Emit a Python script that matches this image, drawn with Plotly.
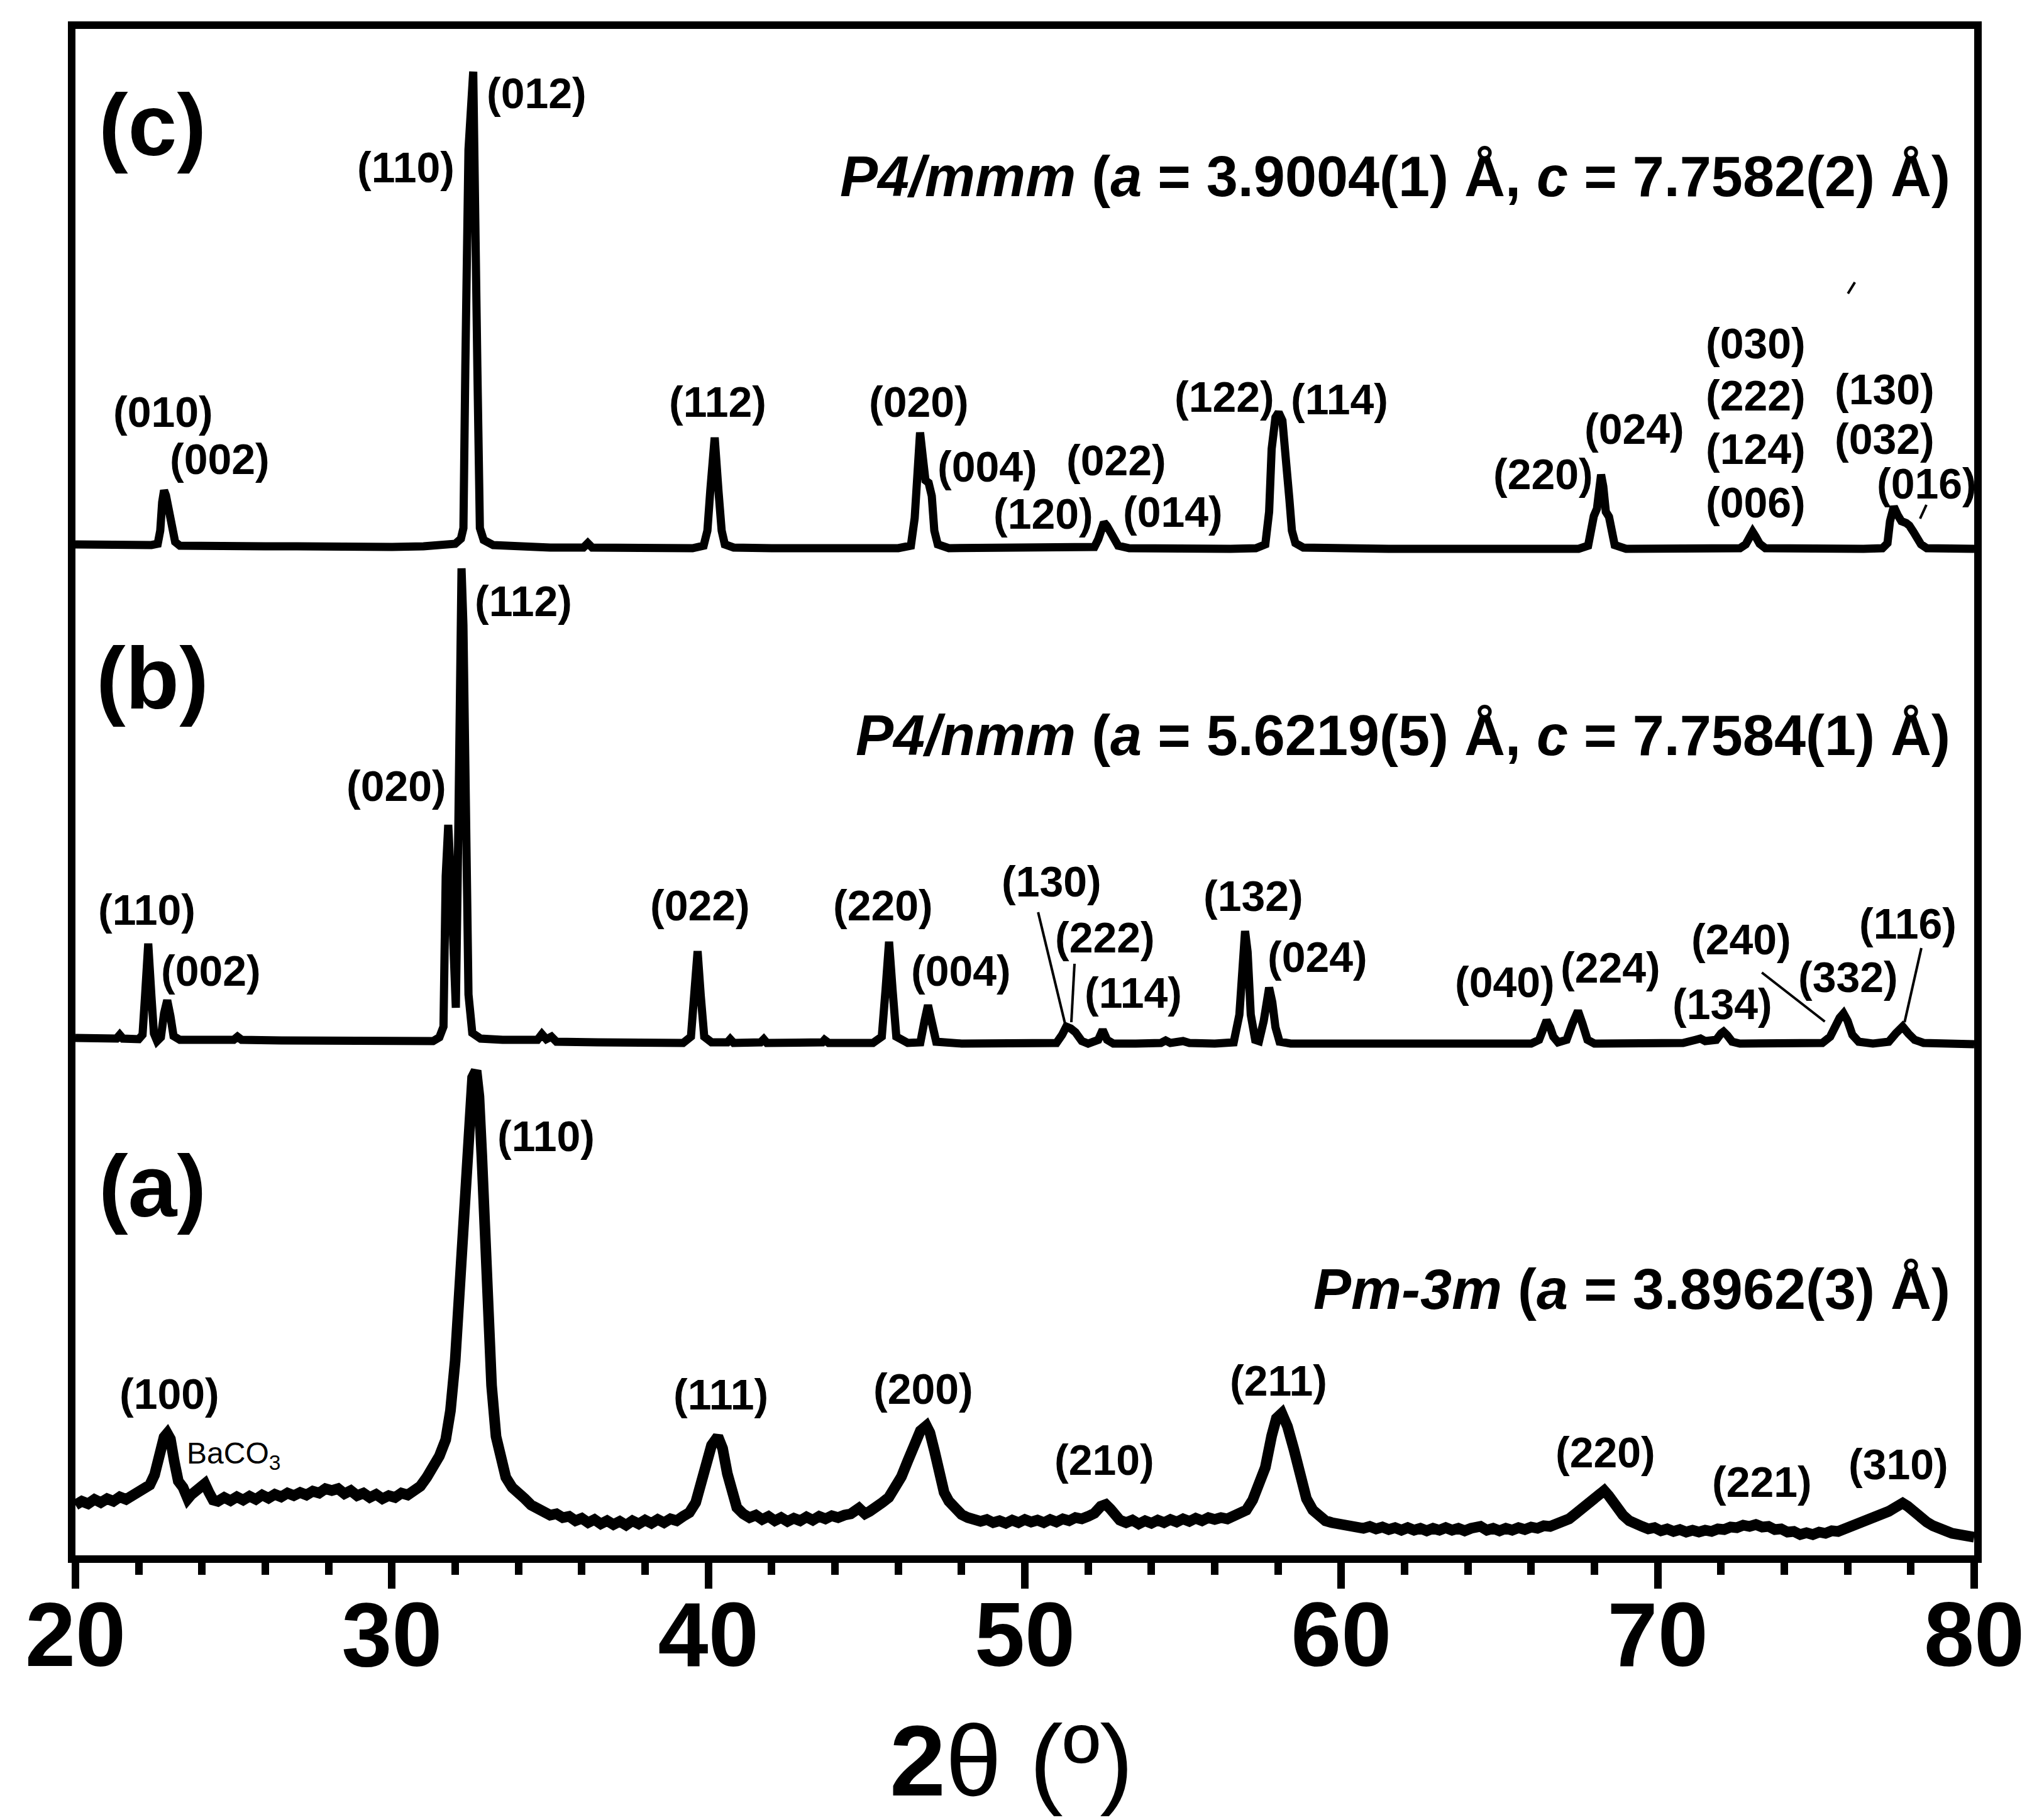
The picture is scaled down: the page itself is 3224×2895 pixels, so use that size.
import plotly.graph_objects as go

# XRD patterns, three phases stacked; intensities in arbitrary units
two_theta_a = [20.0, 20.2, 20.4, 20.6, 20.8, 21.0, 21.2, 21.4, 21.6, 21.8, 22.0, 22.2, 22.35, 22.5, 22.65, 22.8, 22.9,
               23.0, 23.12, 23.25, 23.4, 23.55, 23.65, 23.8, 23.95, 24.09, 24.22, 24.35, 24.5, 24.7, 24.9, 25.1, 25.3,
               25.5, 25.7, 25.9, 26.1, 26.3, 26.5, 26.7, 26.9, 27.1, 27.3, 27.5, 27.7, 27.9, 28.1, 28.3, 28.5, 28.7,
               28.9, 29.1, 29.3, 29.5, 29.7, 29.9, 30.1, 30.3, 30.5, 30.7, 30.9, 31.1, 31.3, 31.5, 31.7, 31.85, 32.0,
               32.1, 32.25, 32.4, 32.55, 32.66, 32.75, 32.84, 32.95, 33.04, 33.15, 33.29, 33.45, 33.6, 33.8, 34.0,
               34.2, 34.4, 34.6, 34.8, 35.0, 35.2, 35.4, 35.6, 35.8, 36.0, 36.2, 36.4, 36.6, 36.8, 37.0, 37.2, 37.4,
               37.6, 37.8, 38.0, 38.2, 38.4, 38.6, 38.8, 39.0, 39.2, 39.4, 39.6, 39.8, 39.95, 40.1, 40.3, 40.45, 40.6,
               40.75, 40.9, 41.1, 41.3, 41.5, 41.7, 41.9, 42.1, 42.3, 42.5, 42.7, 42.9, 43.1, 43.3, 43.5, 43.7, 43.9,
               44.1, 44.3, 44.5, 44.76, 44.95, 45.1, 45.3, 45.5, 45.7, 45.9, 46.1, 46.3, 46.5, 46.7, 46.89, 47.0,
               47.15, 47.3, 47.45, 47.6, 47.8, 48.0, 48.2, 48.4, 48.6, 48.8, 49.0, 49.2, 49.4, 49.6, 49.8, 50.0, 50.2,
               50.4, 50.6, 50.8, 51.0, 51.2, 51.4, 51.6, 51.8, 52.0, 52.2, 52.4, 52.56, 52.7, 52.85, 53.0, 53.2, 53.4,
               53.6, 53.8, 54.0, 54.2, 54.4, 54.6, 54.8, 55.0, 55.2, 55.4, 55.6, 55.8, 56.0, 56.2, 56.4, 56.6, 56.8,
               57.0, 57.2, 57.4, 57.6, 57.8, 57.95, 58.12, 58.3, 58.5, 58.7, 58.9, 59.1, 59.3, 59.5, 59.7, 59.9, 60.1,
               60.3, 60.5, 60.7, 60.9, 61.1, 61.3, 61.5, 61.7, 61.9, 62.1, 62.3, 62.5, 62.7, 62.9, 63.1, 63.3, 63.5,
               63.7, 63.9, 64.1, 64.4, 64.6, 64.8, 65.0, 65.2, 65.4, 65.6, 65.8, 66.0, 66.2, 66.4, 66.6, 66.8, 67.0,
               67.2, 67.4, 67.6, 67.8, 67.95, 68.1, 68.31, 68.45, 68.6, 68.75, 68.9, 69.1, 69.3, 69.5, 69.7, 69.9,
               70.1, 70.3, 70.5, 70.7, 70.9, 71.1, 71.3, 71.5, 71.7, 71.9, 72.1, 72.3, 72.5, 72.7, 72.9, 73.1, 73.3,
               73.5, 73.7, 73.9, 74.1, 74.3, 74.5, 74.7, 74.9, 75.1, 75.3, 75.5, 75.7, 75.9, 76.1, 76.3, 76.5, 76.7,
               76.9, 77.1, 77.3, 77.5, 77.74, 77.9, 78.1, 78.3, 78.5, 78.7, 78.9, 79.1, 79.3, 79.5, 79.7, 80.0]
intensity_a = [80, 86, 82, 89, 84, 90, 86, 93, 89, 95, 97, 104, 112, 128, 160, 188, 194,
               185, 150, 118, 108, 90, 96, 102, 112, 114, 100, 88, 86, 92, 87, 93, 88,
               94, 89, 96, 91, 97, 93, 99, 95, 100, 96, 102, 99, 106, 103, 106, 98, 103,
               95, 99, 92, 97, 90, 95, 92, 99, 96, 104, 110, 124, 140, 158, 184, 230, 310,
               388, 540, 686, 760, 771, 730, 637, 500, 388, 270, 189, 150, 124, 108, 96,
               90, 80, 74, 70, 64, 66, 60, 62, 55, 59, 52, 57, 50, 55, 49, 54, 48,
               55, 50, 56, 51, 57, 52, 58, 55, 62, 68, 84, 115, 150, 175, 189, 170, 130,
               95, 76, 66, 60, 64, 57, 62, 55, 60, 54, 59, 55, 61, 56, 62, 58, 63,
               60, 64, 66, 75, 66, 70, 75, 84, 92, 108, 125, 150, 179, 198, 206, 195,
               165, 125, 100, 86, 72, 65, 60, 58, 54, 57, 52, 55, 51, 56, 52, 57, 53,
               56, 52, 57, 53, 58, 55, 60, 58, 62, 67, 78, 81, 74, 62, 56, 52, 56,
               50, 55, 51, 56, 52, 57, 53, 58, 54, 59, 55, 60, 57, 60, 58, 62, 66,
               72, 88, 112, 140, 190, 218, 226, 205, 169, 125, 90, 72, 62, 55, 52, 50, 48,
               46, 47, 43, 46, 42, 45, 41, 44, 40, 44, 40, 43, 39, 43, 40, 44, 40,
               43, 39, 43, 46, 40, 43, 39, 43, 40, 44, 41, 45, 43, 47, 46, 50, 53,
               58, 66, 74, 82, 90, 98, 103, 95, 84, 74, 64, 55, 49, 46, 42, 44,
               39, 42, 38, 41, 37, 40, 37, 40, 38, 42, 41, 45, 44, 48, 46, 49, 45,
               46, 41, 42, 37, 38, 33, 36, 33, 37, 35, 39, 38, 42, 43, 48, 52, 56,
               60, 64, 70, 76, 83, 78, 68, 60, 53, 47, 41, 39, 35, 33, 32, 29]

two_theta_b = [20.0, 20.5, 21.0, 21.3, 21.4, 21.5, 22.0, 22.12, 22.2, 22.3, 22.4, 22.48, 22.58, 22.7, 22.8, 22.9,
               23.0, 23.1, 23.3, 24.0, 25.0, 25.12, 25.25, 26.5, 28.0, 29.5, 30.5, 31.3, 31.5, 31.63, 31.7, 31.78,
               31.86, 31.94, 32.02, 32.08, 32.14, 32.2, 32.26, 32.31, 32.36, 32.42, 32.54, 32.8, 33.5, 34.3, 34.6,
               34.74, 34.88, 35.04, 35.2, 36.5, 38.0, 39.2, 39.45, 39.56, 39.66, 39.76, 39.87, 40.1, 40.6, 40.69,
               40.8, 41.65, 41.75, 41.85, 43.0, 43.6, 43.67, 43.8, 45.2, 45.48, 45.6, 45.71, 45.82, 45.94, 46.3,
               46.7, 46.83, 46.94, 47.05, 47.2, 48.0, 49.0, 50.0, 51.0, 51.18, 51.31, 51.45, 51.6, 51.8, 52.0,
               52.32, 52.46, 52.6, 52.8, 53.5, 54.3, 54.45, 54.6, 55.0, 55.2, 56.0, 56.6, 56.78, 56.88, 56.96,
               57.04, 57.14, 57.28, 57.4, 57.55, 57.65, 57.72, 57.82, 57.92, 58.05, 58.4, 59.5, 61.0, 62.5, 63.5,
               64.3, 65.2, 66.0, 66.25, 66.38, 66.49, 66.6, 66.7, 66.85, 67.12, 67.3, 67.48, 67.62, 67.78, 68.0,
               69.0, 70.0, 70.8, 71.2, 71.35, 71.5, 71.85, 72.0, 72.08, 72.2, 72.35, 72.6, 73.5, 74.5, 75.2, 75.45,
               75.62, 75.75, 75.87, 76.0, 76.15, 76.35, 76.8, 77.3, 77.52, 77.74, 77.92, 78.12, 78.4, 79.2, 80.0]
intensity_b = [43, 42, 43, 42, 48, 42, 41, 48, 110, 193, 110, 50, 38, 44, 82, 103,
               78, 46, 40, 40, 40, 45, 40, 39, 39, 38, 38, 38, 44, 61, 300, 382,
               300, 130, 91, 300, 700, 790, 700, 560, 300, 112, 51, 42, 40, 38, 40,
               49, 41, 45, 37, 36, 35, 35, 45, 110, 181, 110, 45, 36, 36, 41,
               35, 36, 41, 35, 35, 36, 40, 35, 35, 45, 120, 196, 120, 45, 35,
               36, 70, 95, 70, 37, 34, 34, 34, 35, 48, 61, 58, 52, 38, 34,
               40, 56, 40, 34, 34, 35, 39, 35, 38, 35, 34, 36, 80, 180, 213,
               180, 80, 40, 38, 70, 115, 123, 100, 60, 37, 34, 34, 34, 34, 35,
               35, 34, 34, 40, 60, 71, 60, 45, 36, 40, 65, 86, 66, 40, 34,
               34, 34, 35, 40, 42, 38, 40, 50, 53, 47, 37, 34, 34, 34, 35, 45,
               65, 75, 82, 70, 48, 37, 34, 37, 50, 61, 50, 40, 35, 34, 33]

two_theta_c = [20.0, 20.6, 21.2, 21.8, 22.4, 22.6, 22.68, 22.74, 22.8, 22.86, 22.93, 23.0, 23.07, 23.15, 23.3, 24.0,
               25.0, 26.0, 27.0, 28.0, 29.0, 30.0, 31.0, 31.6, 32.0, 32.18, 32.26, 32.32, 32.42, 32.57, 32.62, 32.7,
               32.78, 32.9, 33.2, 34.0, 35.0, 36.05, 36.19, 36.33, 37.5, 38.5, 39.5, 39.85, 39.97, 40.06, 40.2,
               40.32, 40.42, 40.52, 40.8, 42.0, 43.0, 44.0, 45.0, 46.0, 46.4, 46.52, 46.6, 46.69, 46.78, 46.86,
               46.96, 47.06, 47.14, 47.25, 47.6, 48.5, 49.5, 50.5, 51.5, 52.2, 52.32, 52.42, 52.5, 52.6, 52.7,
               52.82, 52.95, 53.3, 54.5, 55.5, 56.5, 57.3, 57.6, 57.72, 57.8, 57.92, 58.02, 58.14, 58.26, 58.36,
               58.44, 58.55, 58.8, 60.0, 61.5, 63.0, 64.5, 66.0, 67.5, 67.8, 67.88, 67.98, 68.08, 68.15, 68.21,
               68.28, 68.36, 68.46, 68.54, 68.64, 69.0, 70.5, 72.0, 72.6, 72.78, 72.9, 73.0, 73.1, 73.22, 73.4,
               74.5, 75.5, 76.5, 77.1, 77.26, 77.34, 77.46, 77.58, 77.7, 77.85, 77.95, 78.08, 78.2, 78.32, 78.5,
               79.2, 80.0]
intensity_c = [48, 47, 49, 47, 47, 49, 70, 115, 134, 126, 104, 95, 72, 52, 46, 45,
               46, 45, 45, 44, 45, 44, 45, 46, 49, 57, 74, 330, 676, 800, 676, 330,
               74, 55, 47, 44, 43, 43, 50, 43, 42, 43, 42, 46, 70, 133, 218,
               133, 70, 48, 43, 42, 43, 42, 42, 42, 46, 90, 180, 226, 185, 150,
               146, 125, 70, 48, 42, 42, 41, 42, 42, 44, 56, 72, 83, 77, 66,
               55, 46, 42, 41, 42, 41, 42, 48, 100, 200, 250, 258, 245, 190, 120,
               70, 50, 43, 41, 41, 41, 41, 41, 41, 46, 75, 93, 105, 140, 159,
               140, 100, 92, 75, 47, 41, 41, 41, 42, 48, 60, 68, 60, 49, 42,
               41, 41, 41, 42, 50, 85, 108, 95, 85, 82, 78, 68, 60, 48, 42,
               41, 41]

# vertical offsets used to stack the patterns
offset_a = 0
offset_b = 780
offset_c = 1560

# Miller index labels: (text, 2theta, height)
labels_c = [("(110)", 30.44, 2208), ("(012)", 34.58, 2326), ("(010)", 22.78, 1819), ("(002)", 24.56, 1744),
            ("(112)", 40.30, 1835), ("(020)", 46.65, 1835), ("(004)", 48.81, 1732), ("(120)", 50.58, 1657),
            ("(022)", 52.90, 1742), ("(014)", 54.68, 1660), ("(122)", 56.31, 1843), ("(114)", 59.94, 1839),
            ("(220)", 66.39, 1720), ("(024)", 69.27, 1792), ("(030)", 73.10, 1928), ("(222)", 73.10, 1845),
            ("(124)", 73.10, 1760), ("(006)", 73.10, 1675), ("(130)", 77.16, 1855), ("(032)", 77.16, 1776),
            ("(016)", 78.49, 1705)]
labels_b = [("(020)", 30.14, 1224), ("(112)", 34.15, 1518), ("(110)", 22.26, 1027), ("(002)", 24.29, 930),
            ("(022)", 39.74, 1034), ("(220)", 45.52, 1034), ("(004)", 47.98, 930), ("(130)", 50.85, 1072),
            ("(222)", 52.54, 983), ("(114)", 53.43, 895), ("(132)", 57.22, 1049), ("(024)", 59.25, 952),
            ("(040)", 65.16, 912), ("(224)", 68.51, 935), ("(240)", 72.64, 980), ("(134)", 72.04, 877),
            ("(332)", 76.01, 920), ("(116)", 77.90, 1005)]
labels_a = [("(110)", 34.88, 667), ("(100)", 22.98, 257), ("(111)", 40.40, 256), ("(200)", 46.79, 265),
            ("(210)", 52.52, 152), ("(211)", 58.02, 278), ("(220)", 68.35, 164), ("(221)", 73.29, 117),
            ("(310)", 77.60, 145)]

# leader lines from labels to peaks: (x0, y0, x1, y1)
leaders = [(50.42, 1023, 51.27, 846), (51.57, 941, 51.47, 848), (73.29, 927, 75.28, 849),
           (78.33, 966, 77.80, 848), (76.01, 2007, 76.23, 2025), (78.29, 1649, 78.49, 1671)]

phases = [
    ("<b><i>P4/mmm</i> (<i>a</i> = 3.9004(1) Å, <i>c</i> = 7.7582(2) Å)</b>", 2193),
    ("<b><i>P4/nmm</i> (<i>a</i> = 5.6219(5) Å, <i>c</i> = 7.7584(1) Å)</b>", 1304),
    ("<b><i>Pm-3m</i> (<i>a</i> = 3.8962(3) Å)</b>", 423),
]
panels = [("(c)", 2276), ("(b)", 1396), ("(a)", 588)]

FONT = "Liberation Sans"

fig = go.Figure()

for tt, inten, off, w in [(two_theta_a, intensity_a, offset_a, 17),
                          (two_theta_b, intensity_b, offset_b, 13),
                          (two_theta_c, intensity_c, offset_c, 13)]:
    fig.add_trace(go.Scatter(
        x=tt, y=[v + off for v in inten],
        mode='lines',
        line=dict(color='black', width=w),
        showlegend=False
    ))

# peak labels
for text, x, y in labels_a + labels_b + labels_c:
    fig.add_annotation(x=x, y=y, xref='x', yref='y', text="<b>%s</b>" % text,
                       showarrow=False, xanchor='center', yanchor='middle',
                       font=dict(family=FONT, size=68, color='black'))

fig.add_annotation(x=23.47, y=159, xref='x', yref='y', text="BaCO<sub>3</sub>",
                   showarrow=False, xanchor='left', yanchor='middle',
                   font=dict(family=FONT, size=48, color='black'))

for x0, y0, x1, y1 in leaders:
    fig.add_shape(type='line', x0=x0, y0=y0, x1=x1, y1=y1, xref='x', yref='y',
                  line=dict(color='black', width=4))

# phase descriptions
for text, y in phases:
    fig.add_annotation(x=79.29, y=y, xref='x', yref='y', text=text,
                       showarrow=False, xanchor='right', yanchor='middle',
                       font=dict(family=FONT, size=90, color='black'))

# panel letters
for text, y in panels:
    fig.add_annotation(x=22.43, y=y, xref='x', yref='y', text="<b>%s</b>" % text,
                       showarrow=False, xanchor='center', yanchor='middle',
                       font=dict(family=FONT, size=140, color='black'))

# x axis title
fig.add_annotation(x=49.58, y=-0.1345, xref='x', yref='paper', text="<b>2</b>θ (º)",
                   showarrow=False, xanchor='center', yanchor='middle',
                   font=dict(family=FONT, size=160, color='black'))

fig.update_layout(
    width=3224, height=2895,
    margin=dict(l=112, r=90, t=38, b=429),
    plot_bgcolor='white', paper_bgcolor='white',
    xaxis=dict(range=[20, 80], tick0=20, dtick=10, showgrid=False, zeroline=False,
               showline=True, linewidth=12, linecolor='black', mirror=True,
               ticks='outside', ticklen=41, tickwidth=12, tickcolor='black',
               ticklabelstandoff=-50,
               tickfont=dict(family=FONT, size=144, color='black', weight='bold'),
               minor=dict(dtick=2, ticks='outside', ticklen=19, tickwidth=12,
                          tickcolor='black', showgrid=False)),
    yaxis=dict(range=[0, 2428], showgrid=False, zeroline=False, showticklabels=False,
               showline=True, linewidth=12, linecolor='black', mirror=True, ticks=''),
    showlegend=False
)

fig.write_html("out.html")
